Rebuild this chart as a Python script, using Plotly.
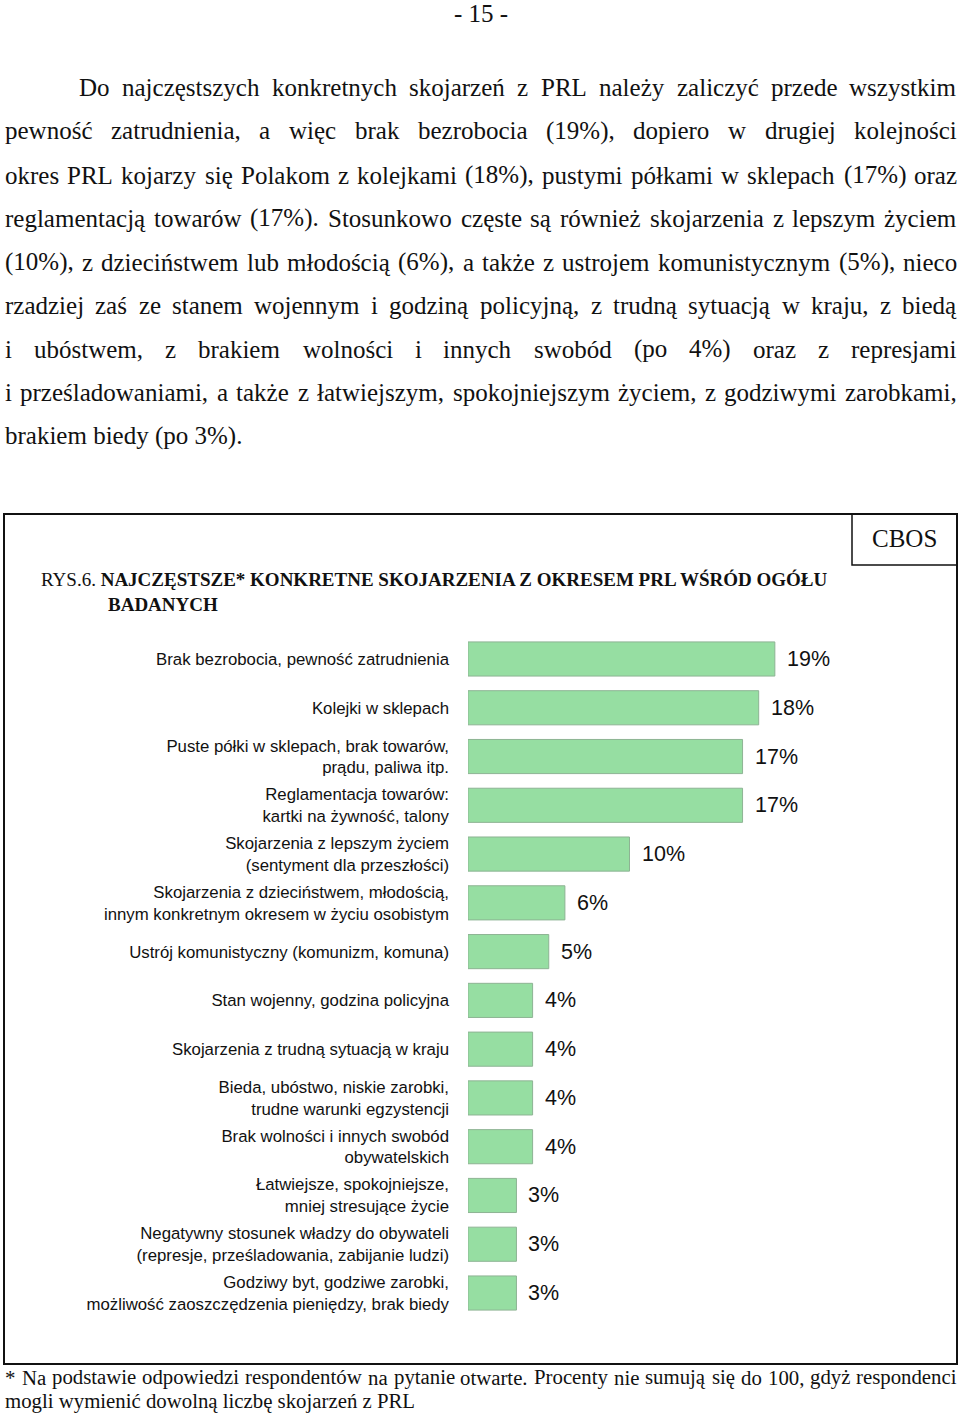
import plotly.graph_objects as go

# ---------------- data ----------------
categories = [
    "Brak bezrobocia, pewność zatrudnienia",
    "Kolejki w sklepach",
    "Puste półki w sklepach, brak towarów,<br>prądu, paliwa itp.",
    "Reglamentacja towarów:<br>kartki na żywność, talony",
    "Skojarzenia z lepszym życiem<br>(sentyment dla przeszłości)",
    "Skojarzenia z dzieciństwem, młodością,<br>innym konkretnym okresem w życiu osobistym",
    "Ustrój komunistyczny (komunizm, komuna)",
    "Stan wojenny, godzina policyjna",
    "Skojarzenia z trudną sytuacją w kraju",
    "Bieda, ubóstwo, niskie zarobki,<br>trudne warunki egzystencji",
    "Brak wolności i innych swobód<br>obywatelskich",
    "Łatwiejsze, spokojniejsze,<br>mniej stresujące życie",
    "Negatywny stosunek władzy do obywateli<br>(represje, prześladowania, zabijanie ludzi)",
    "Godziwy byt, godziwe zarobki,<br>możliwość zaoszczędzenia pieniędzy, brak biedy",
]
values = [19, 18, 17, 17, 10, 6, 5, 4, 4, 4, 4, 3, 3, 3]

page_number = "- 15 -"
paragraph_lines = [
    "Do najczęstszych konkretnych skojarzeń z PRL należy zaliczyć przede wszystkim",
    "pewność zatrudnienia, a więc brak bezrobocia (19%), dopiero w drugiej kolejności",
    "okres PRL kojarzy się Polakom z kolejkami (18%), pustymi półkami w sklepach (17%) oraz",
    "reglamentacją towarów (17%). Stosunkowo częste są również skojarzenia z lepszym życiem",
    "(10%), z dzieciństwem lub młodością (6%), a także z ustrojem komunistycznym (5%), nieco",
    "rzadziej zaś ze stanem wojennym i godziną policyjną, z trudną sytuacją w kraju, z biedą",
    "i ubóstwem, z brakiem wolności i innych swobód (po 4%) oraz z represjami",
    "i prześladowaniami, a także z łatwiejszym, spokojniejszym życiem, z godziwymi zarobkami,",
    "brakiem biedy (po 3%).",
]
title_prefix = "RYS.6. "
title_bold_1 = "NAJCZĘSTSZE* KONKRETNE SKOJARZENIA Z OKRESEM PRL WŚRÓD OGÓŁU"
title_bold_2 = "BADANYCH"
source_label = "CBOS"
footnote_lines = [
    "* Na podstawie odpowiedzi respondentów na pytanie otwarte. Procenty nie sumują się do 100, gdyż respondenci",
    "mogli wymienić dowolną liczbę skojarzeń z PRL",
]

# ---------------- layout helpers ----------------
W, H = 960, 1416
SERIF = "Liberation Serif, Times New Roman, serif"
SANS = "Liberation Sans, Arial, sans-serif"

def py(p):
    return 1 - p / H

# Times / Liberation Serif advance widths (1/1000 em) for justification
TW = {' ': 250, 'a': 444, 'b': 500, 'c': 444, 'd': 500, 'e': 444, 'f': 333, 'g': 500, 'h': 500,
      'i': 278, 'j': 278, 'k': 500, 'l': 278, 'm': 778, 'n': 500, 'o': 500, 'p': 500, 'q': 500,
      'r': 333, 's': 389, 't': 278, 'u': 500, 'v': 500, 'w': 722, 'x': 500, 'y': 500, 'z': 444,
      'A': 722, 'B': 667, 'C': 667, 'D': 722, 'E': 611, 'F': 556, 'G': 722, 'H': 722, 'I': 333,
      'J': 389, 'K': 722, 'L': 611, 'M': 889, 'N': 722, 'O': 722, 'P': 556, 'Q': 722, 'R': 667,
      'S': 556, 'T': 611, 'U': 722, 'V': 722, 'W': 944, 'X': 722, 'Y': 722, 'Z': 611,
      '0': 500, '1': 500, '2': 500, '3': 500, '4': 500, '5': 500, '6': 500, '7': 500, '8': 500,
      '9': 500, '%': 833, '(': 333, ')': 333, ',': 250, '.': 250, '-': 333, ':': 278, '*': 500,
      'ą': 444, 'ę': 444, 'ć': 444, 'ł': 278, 'ń': 500, 'ó': 500, 'ś': 389, 'ź': 444, 'ż': 444,
      'Ś': 556, 'Ż': 611, 'Ł': 611, 'Ó': 722}

def tw(s, size):
    return sum(TW.get(c, 500) for c in s) * size / 1000.0

annotations = []

def add_text(text, x, y, size, family=SERIF, anchor="left", yanchor="middle"):
    annotations.append(dict(text=text, x=x / W, y=py(y), xref="paper", yref="paper",
                            xanchor=anchor, yanchor=yanchor, showarrow=False,
                            borderpad=0, borderwidth=0,
                            font=dict(family=family, size=size, color="#111111")))

def justified(line, x0, x1, y, size):
    words = line.split(" ")
    widths = [tw(w, size) for w in words]
    gap = (x1 - x0 - sum(widths)) / (len(words) - 1)
    x = x0
    for i, (w, wd) in enumerate(zip(words, widths)):
        if i == 0:
            add_text(w, x0, y, size, anchor="left")
        elif i == len(words) - 1:
            add_text(w, x1, y, size, anchor="right")
        else:
            add_text(w, x + wd / 2, y, size, anchor="center")
        x += wd + gap

# page number
add_text(page_number, 481, 13, 25, anchor="center")

# paragraph
para_y = [88, 131, 175, 218, 262, 305, 349, 392, 436]
for i, (line, yy) in enumerate(zip(paragraph_lines, para_y)):
    x0 = 79 if i == 0 else 5
    if i == len(paragraph_lines) - 1:
        add_text(line, x0, yy, 25)
    else:
        justified(line, x0, 957, yy, 25)

# title
add_text(title_prefix + "<b>" + title_bold_1 + "</b>", 41, 579, 19)
add_text("<b>" + title_bold_2 + "</b>", 108, 605, 19)
# CBOS
add_text(source_label, 904, 538, 25, anchor="center")

# footnote
justified(footnote_lines[0], 5, 957, 1377, 20.8)
add_text(footnote_lines[1], 5, 1401, 20.8)

# ---------------- bars ----------------
px_per_pct = 16.15
x_left = 468
row_top, row_bot = 634.6, 1317.4
n = len(values)
ypos = list(range(n))

fig = go.Figure(go.Bar(
    x=values, y=ypos, orientation="h",
    marker=dict(color="#96dea2", line=dict(color="#8db393", width=1)),
    width=0.70, hoverinfo="skip",
))

for v, yy in zip(values, ypos):
    annotations.append(dict(text=f"{v}%", x=v, y=yy, xref="x", yref="y", xanchor="left",
                            yanchor="middle", xshift=10, showarrow=False,
                            font=dict(family=SANS, size=21.5, color="#111111")))

shapes = [
    dict(type="rect", xref="paper", yref="paper", x0=4 / W, x1=957 / W, y0=py(1364), y1=py(514),
         line=dict(color="#111111", width=2)),
    dict(type="rect", xref="paper", yref="paper", x0=852 / W, x1=957 / W, y0=py(565), y1=py(514),
         line=dict(color="#111111", width=1.5)),
]

fig.update_layout(
    width=W, height=H, margin=dict(l=0, r=0, t=0, b=0),
    paper_bgcolor="white", plot_bgcolor="rgba(0,0,0,0)",
    showlegend=False, annotations=annotations, shapes=shapes,
    xaxis=dict(domain=[x_left / W, 1.0], range=[0, (W - x_left) / px_per_pct],
               visible=False, fixedrange=True),
    yaxis=dict(domain=[py(row_bot), py(row_top)], range=[n - 0.5, -0.5],
               tickvals=ypos, ticktext=categories, showgrid=False, zeroline=False,
               showline=False, ticks="", ticklabelstandoff=18,
               tickfont=dict(family=SANS, size=16.8, color="#111111"), fixedrange=True),
)

fig.write_html("out.html")
